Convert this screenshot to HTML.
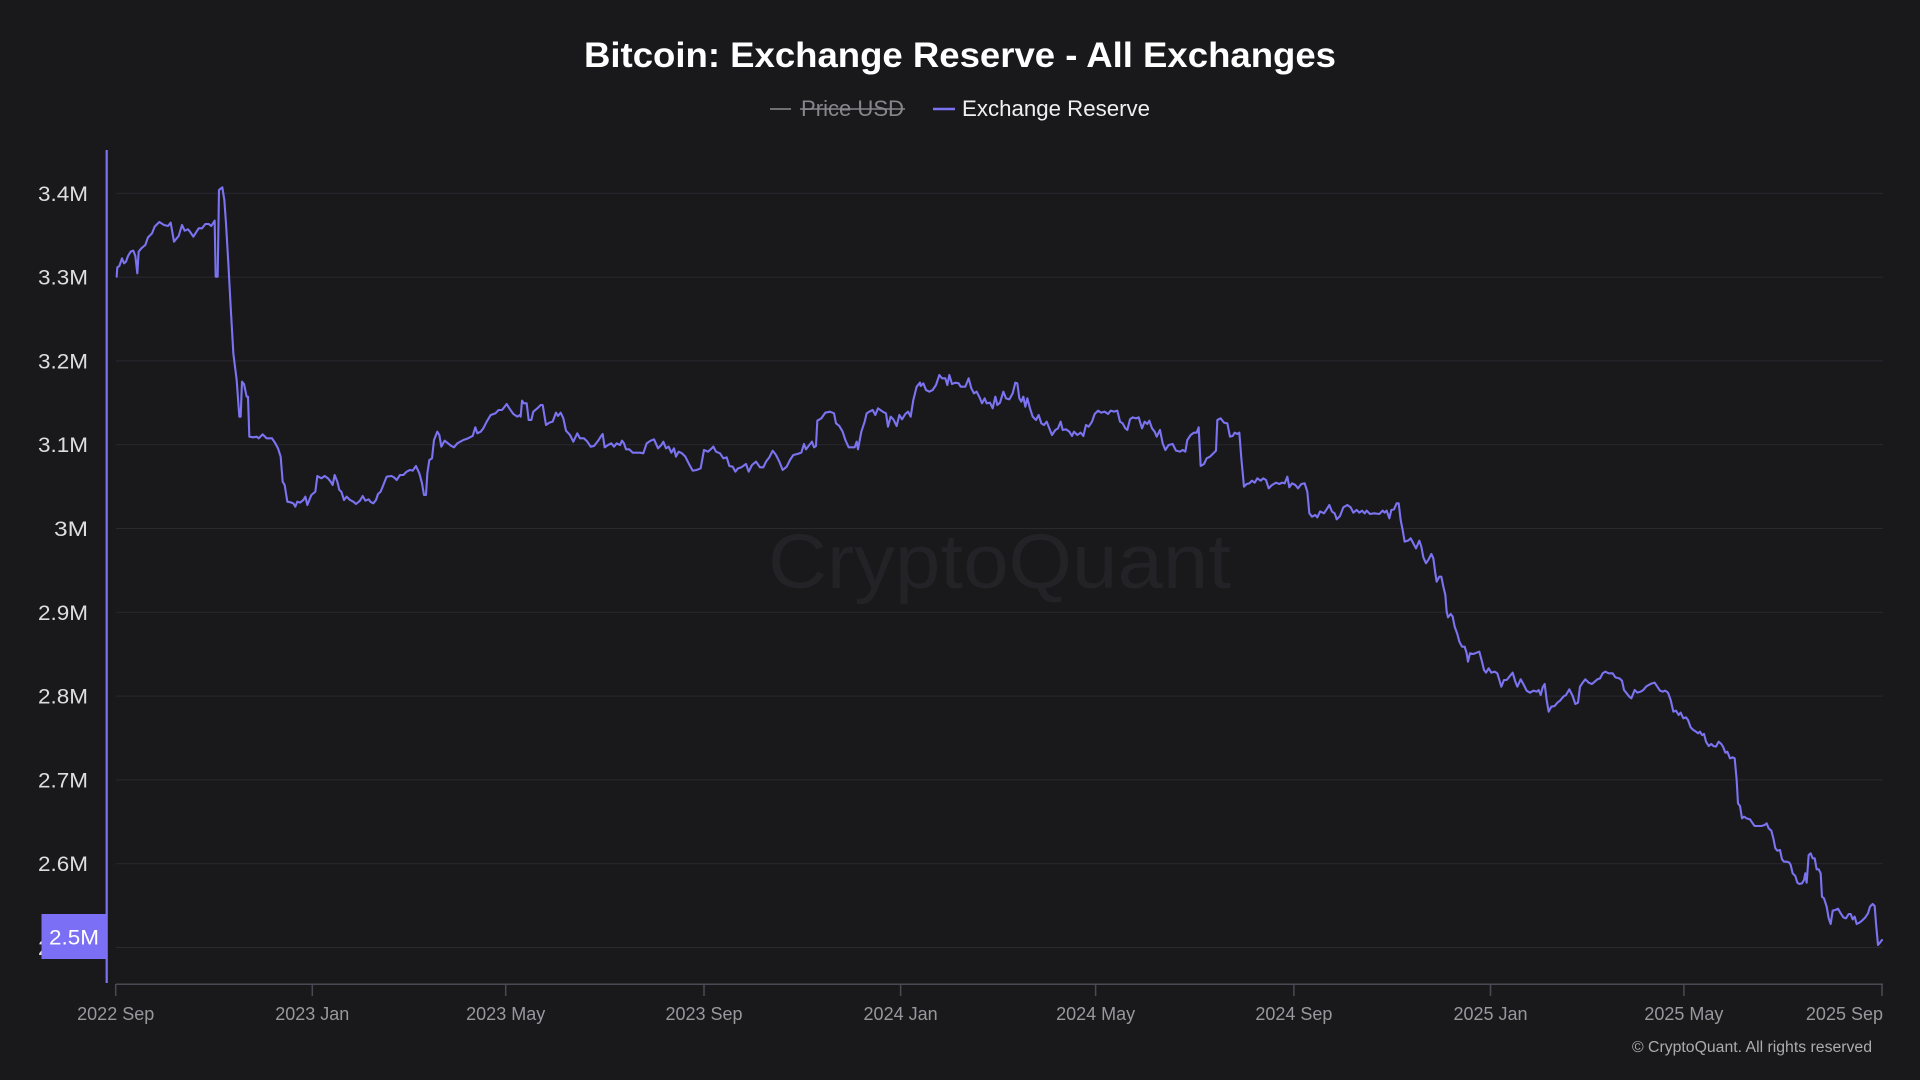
<!DOCTYPE html>
<html>
<head>
<meta charset="utf-8">
<style>
  html,body{margin:0;padding:0;background:#19191c;}
  body{width:1920px;height:1080px;overflow:hidden;}
  svg{display:block;}
  text{font-family:"Liberation Sans",Arial,sans-serif;}
</style>
</head>
<body>
<svg width="1920" height="1080" viewBox="0 0 1920 1080" xmlns="http://www.w3.org/2000/svg">
  <rect x="0" y="0" width="1920" height="1080" fill="#19191c"/>

  <!-- Title -->
  <text x="960" y="67" text-anchor="middle" font-size="35" font-weight="bold" fill="#ffffff" textLength="752" lengthAdjust="spacingAndGlyphs">Bitcoin: Exchange Reserve - All Exchanges</text>

  <!-- Legend -->
  <line x1="770" y1="109" x2="791" y2="109" stroke="#6e6e74" stroke-width="2"/>
  <text x="801" y="116" font-size="22" fill="#86868c" textLength="103" lengthAdjust="spacingAndGlyphs">Price USD</text>
  <line x1="800" y1="109" x2="905" y2="109" stroke="#86868c" stroke-width="1.5"/>
  <line x1="933" y1="109" x2="955" y2="109" stroke="#7b73f0" stroke-width="2.5"/>
  <text x="962" y="116" font-size="22" fill="#f0f0f0" textLength="188" lengthAdjust="spacingAndGlyphs">Exchange Reserve</text>

  <!-- Watermark -->
  <text x="768" y="588" font-size="77" fill="#222227" textLength="463" lengthAdjust="spacingAndGlyphs">CryptoQuant</text>

  <!-- Gridlines -->
  <g stroke="#29292f" stroke-width="1">
    <line x1="116" y1="193.3" x2="1883" y2="193.3"/>
    <line x1="116" y1="277.1" x2="1883" y2="277.1"/>
    <line x1="116" y1="360.9" x2="1883" y2="360.9"/>
    <line x1="116" y1="444.7" x2="1883" y2="444.7"/>
    <line x1="116" y1="528.5" x2="1883" y2="528.5"/>
    <line x1="116" y1="612.3" x2="1883" y2="612.3"/>
    <line x1="116" y1="696.1" x2="1883" y2="696.1"/>
    <line x1="116" y1="779.9" x2="1883" y2="779.9"/>
    <line x1="116" y1="863.7" x2="1883" y2="863.7"/>
    <line x1="116" y1="947.5" x2="1883" y2="947.5"/>
  </g>

  <!-- Y labels -->
  <g font-size="21" fill="#dedede" text-anchor="end">
    <text x="88" y="201" textLength="50" lengthAdjust="spacingAndGlyphs">3.4M</text>
    <text x="88" y="284.6" textLength="50" lengthAdjust="spacingAndGlyphs">3.3M</text>
    <text x="88" y="368.4" textLength="50" lengthAdjust="spacingAndGlyphs">3.2M</text>
    <text x="88" y="452.2" textLength="50" lengthAdjust="spacingAndGlyphs">3.1M</text>
    <text x="88" y="536" textLength="34" lengthAdjust="spacingAndGlyphs">3M</text>
    <text x="88" y="619.8" textLength="50" lengthAdjust="spacingAndGlyphs">2.9M</text>
    <text x="88" y="703.6" textLength="50" lengthAdjust="spacingAndGlyphs">2.8M</text>
    <text x="88" y="787.4" textLength="50" lengthAdjust="spacingAndGlyphs">2.7M</text>
    <text x="88" y="871.2" textLength="50" lengthAdjust="spacingAndGlyphs">2.6M</text>
    <text x="88" y="955" textLength="50" lengthAdjust="spacingAndGlyphs">2.5M</text>
  </g>

  <!-- X axis -->
  <line x1="116" y1="984.3" x2="1883" y2="984.3" stroke="#4a4a54" stroke-width="1.5"/>
  <g stroke="#4a4a54" stroke-width="1.5">
    <line x1="115.7" y1="984" x2="115.7" y2="996"/>
    <line x1="312.3" y1="984" x2="312.3" y2="996"/>
    <line x1="505.7" y1="984" x2="505.7" y2="996"/>
    <line x1="704" y1="984" x2="704" y2="996"/>
    <line x1="900.6" y1="984" x2="900.6" y2="996"/>
    <line x1="1095.6" y1="984" x2="1095.6" y2="996"/>
    <line x1="1293.9" y1="984" x2="1293.9" y2="996"/>
    <line x1="1490.5" y1="984" x2="1490.5" y2="996"/>
    <line x1="1683.9" y1="984" x2="1683.9" y2="996"/>
    <line x1="1882" y1="984" x2="1882" y2="996"/>
  </g>
  <g font-size="18" fill="#97979d" text-anchor="middle">
    <text x="115.7" y="1020">2022 Sep</text>
    <text x="312.3" y="1020">2023 Jan</text>
    <text x="505.7" y="1020">2023 May</text>
    <text x="704" y="1020">2023 Sep</text>
    <text x="900.6" y="1020">2024 Jan</text>
    <text x="1095.6" y="1020">2024 May</text>
    <text x="1293.9" y="1020">2024 Sep</text>
    <text x="1490.5" y="1020">2025 Jan</text>
    <text x="1683.9" y="1020">2025 May</text>
    <text x="1883" y="1020" text-anchor="end">2025 Sep</text>
  </g>

  <!-- Series -->
  <g fill="none" stroke="#7b73f0" stroke-width="6.3" stroke-linejoin="round" stroke-linecap="round">
    <path transform="translate(100,180) scale(0.33333)" d="M50,290 L52,262 58,258 66,235 72,250 78,245 84,228 92,215 100,212 106,228 112,280 116,215 124,205 136,195 144,172 156,160 164,140 178,126 192,135 204,138 212,128 222,185 236,168 246,135 254,152 264,148 270,155 280,170 296,145 306,145 316,132 326,132 334,138 340,128 344,122 347,290 353,290 357,30 367,22 373,60 378,130 385,250 392,380 400,520 410,600 418,710 422,710 426,605 432,612 440,650 444,650 448,770 460,772 470,770 476,775 488,763 500,775 516,775 526,790 534,805 542,830 548,905 554,915 562,965 572,967 580,970 586,980 592,965 600,968 610,960 616,950 622,975 634,945 646,935 652,888 664,895 674,888 684,895 692,905 698,915 704,885 712,905 718,930 724,935 732,960 740,950 750,960 760,965 768,972 780,962 788,948 796,962 806,958 812,966 820,970 828,960 834,942 842,935 850,915 860,890 874,888 882,892 890,900 900,885 910,885 920,875 930,870 938,872 948,858 958,880 966,910 972,945 978,945 982,880 988,840 996,835 1002,780 1012,755 1018,765 1024,800 1034,782 1044,790 1054,798 1062,802 1072,790 1090,780 1104,775 1118,768 1126,742 1132,760 1142,755 1150,745 1160,725 1172,705 1186,700 1196,690 1206,690 1214,680 1220,672 1228,685 1240,702 1252,710 1260,705"/>
    <path transform="translate(500,360) scale(0.33333)" d="M60,165 L62,170 66,122 72,130 80,130 86,180 94,180 100,155 112,145 122,135 128,135 138,195 148,188 158,185 168,158 174,168 182,158 190,175 198,212 210,225 220,245 232,220 240,235 252,235 262,245 272,260 282,258 296,240 302,230 308,222 314,262 324,255 334,250 342,260 350,250 360,255 366,242 372,250 378,268 388,268 398,278 410,278 420,278 430,280 440,250 452,242 462,238 474,265 484,255 490,245 498,265 506,260 514,278 522,265 528,290 536,275 546,280 556,290 566,310 578,332 590,330 602,325 612,270 624,275 632,268 640,260 648,275 660,280 670,295 680,292 688,318 698,320 706,335 714,325 724,322 738,312 746,335 756,315 768,305 780,322 790,322 798,305 808,292 818,272 828,285 838,305 848,330 860,320 870,300 880,285 892,282 904,278 912,252 918,268 928,255 936,245 942,262 948,258 952,182 964,175 976,158 990,155 1002,160 1008,190 1018,198 1028,215 1036,240 1046,262 1056,262 1064,262 1070,245 1074,268 1084,215 1094,185 1100,160 1108,155 1118,150 1126,165 1134,145 1148,155 1158,160 1164,200 1172,170 1180,178 1190,198 1198,165 1206,178 1216,162 1224,155 1232,170 1240,120 1250,80 1260,68"/>
    <path transform="translate(900,360) scale(0.33333)" d="M60,68 L62,78 70,70 78,90 88,95 98,90 108,75 118,45 126,55 136,55 142,75 148,45 156,72 166,68 176,70 182,80 196,80 206,55 214,85 222,100 230,95 240,115 246,130 254,115 260,130 270,128 278,145 286,110 292,135 300,128 310,95 318,115 328,118 338,100 346,68 352,70 358,115 364,125 370,110 376,140 382,115 390,145 398,170 408,180 416,165 424,190 432,195 440,185 448,205 456,225 466,210 474,205 482,185 488,210 498,208 508,215 516,228 522,215 532,225 542,218 550,228 558,195 566,200 576,185 584,162 594,152 604,158 614,155 624,162 632,152 642,155 652,152 660,185 668,190 676,205 682,210 690,178 698,172 708,175 716,172 726,205 734,185 742,192 748,182 756,205 764,215 770,230 780,210 788,250 796,270 806,255 818,252 828,272 840,275 848,270 856,275 862,240 872,225 882,218 890,218 896,202 902,318 912,312 920,295 930,290 940,280 948,272 952,180 962,175 972,188 982,190 990,230 998,228 1004,218 1012,222 1018,218 1024,295 1032,380 1040,372 1048,370 1056,362 1064,368 1072,355 1082,362 1090,355 1098,360 1106,385 1116,375 1128,368 1138,372 1146,368 1154,370 1162,350 1168,382 1176,370 1186,375 1194,385 1204,372 1214,370 1222,395 1228,460 1236,470 1246,465 1252,472 1260,455"/>
    <path transform="translate(1300,480) scale(0.33333)" d="M60,95 L62,95 72,100 80,88 88,75 96,95 104,100 110,118 120,108 130,82 142,75 152,82 160,98 170,90 178,98 186,92 194,100 200,92 210,102 222,100 238,102 248,92 254,98 260,92 268,115 274,90 282,88 290,70 296,70 302,120 308,150 314,185 324,182 332,175 340,190 348,205 358,182 364,200 370,232 378,250 386,238 394,222 400,235 406,280 410,305 418,290 424,290 430,320 436,345 440,395 444,412 452,402 458,410 464,440 472,462 478,485 486,500 494,500 500,520 504,545 510,520 520,522 530,518 538,515 546,545 552,570 558,578 566,565 574,578 584,575 592,580 598,600 604,620 612,600 620,600 628,590 638,578 646,605 652,620 662,598 670,612 680,632 690,638 700,632 710,635 716,630 722,645 728,622 734,612 740,660 746,695 754,680 764,678 772,668 780,662 790,650 798,645 808,628 818,648 826,672 834,668 840,620 848,608 856,598 866,608 876,612 884,605 892,598 900,595"/>
    <path transform="translate(1600,640) scale(0.33333)" d="M0,115 L8,100 16,95 26,100 38,100 46,112 58,115 66,122 72,150 80,160 88,170 94,175 104,150 112,158 122,155 130,150 138,140 146,135 156,130 164,128 172,140 180,152 188,155 196,152 204,158 212,180 220,215 228,212 236,225 242,218 250,235 258,232 264,240 272,262 280,270 288,275 294,280 300,275 306,285 312,282 318,305 326,318 334,312 340,318 348,320 356,305 364,312 370,322 376,338 382,335 390,355 398,352 404,355 410,420 414,490 420,498 426,535 432,530 440,535 450,538 458,550 464,558 474,558 484,558 494,555 500,550 506,565 514,572 520,595 526,625 532,632 540,630 546,658 552,665 560,665 568,668 572,675 578,700 586,708 592,728 598,732 606,730 612,720 616,700 620,728 626,645 632,640 638,655 644,655 650,688 656,688 662,700 666,770 672,775 680,800 686,835 692,852 698,812 706,810 714,806 722,820 730,832 738,835 746,822 752,822 758,838 764,830 770,852 778,848 786,842 796,832 804,820 810,800 818,792 824,798 828,850 834,915 840,908 846,900"/>
  </g>

  <!-- Y axis line -->
  <line x1="106.7" y1="150" x2="106.7" y2="983" stroke="#7b73f0" stroke-width="2.2"/>

  <!-- Current value marker -->
  <rect x="41.5" y="914" width="65" height="45" fill="#7b6ff5"/>
  <text x="74" y="944.5" font-size="21" fill="#ffffff" text-anchor="middle" textLength="50" lengthAdjust="spacingAndGlyphs">2.5M</text>

  <!-- Copyright -->
  <text x="1632" y="1052" font-size="15.5" fill="#ababb0" textLength="240" lengthAdjust="spacingAndGlyphs">© CryptoQuant. All rights reserved</text>
</svg>
</body>
</html>
